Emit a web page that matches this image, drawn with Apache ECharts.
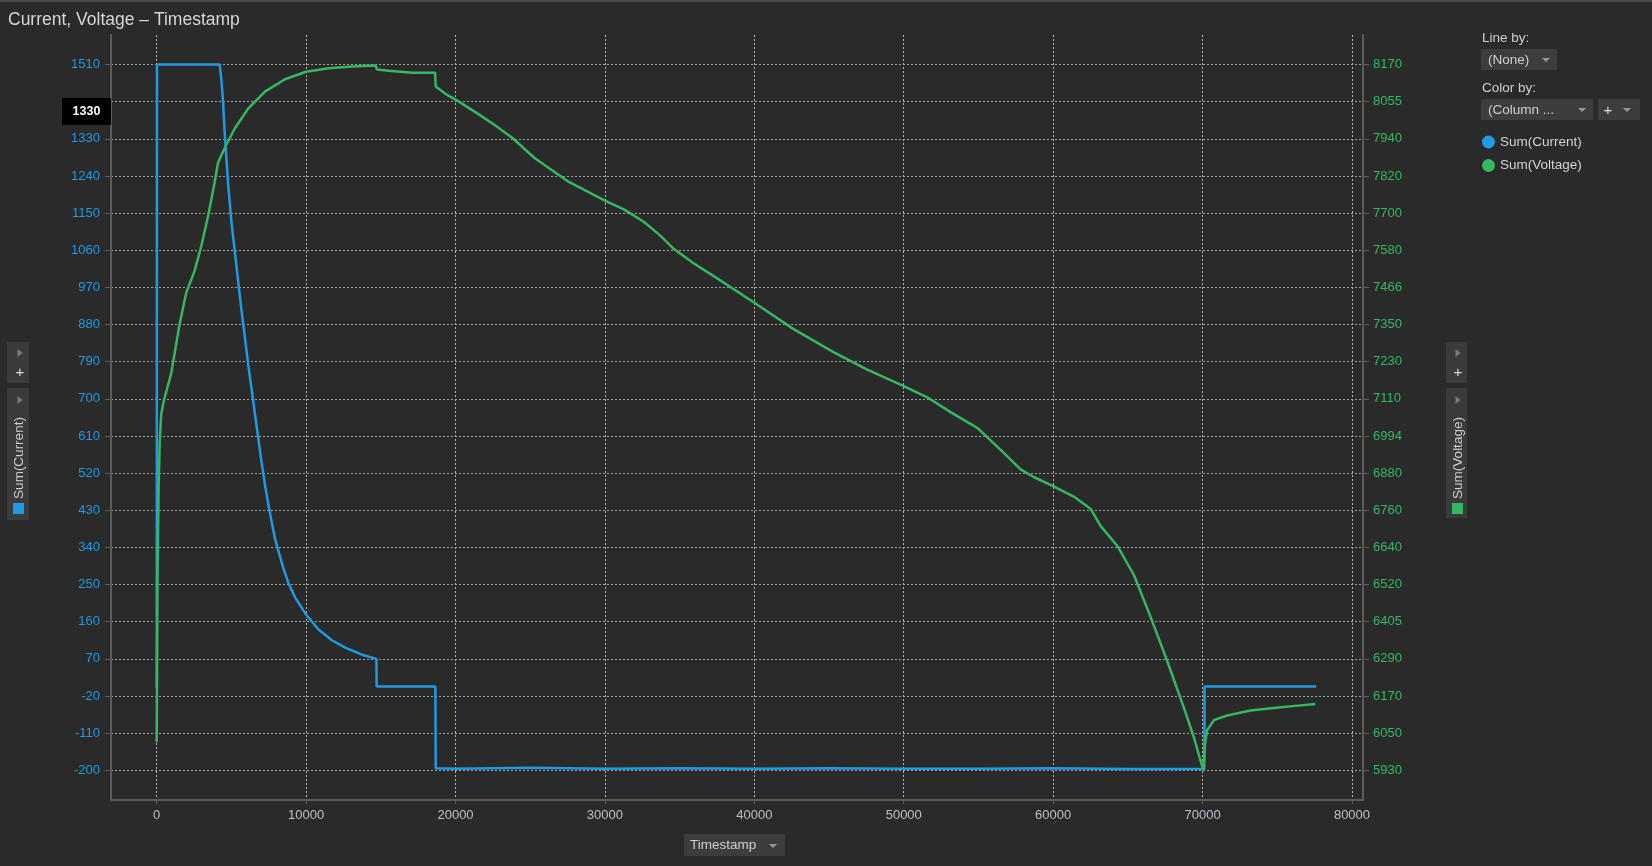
<!DOCTYPE html>
<html><head><meta charset="utf-8">
<script src="https://cdn.jsdelivr.net/npm/echarts@6/dist/echarts.min.js"></script>
<style>html,body{margin:0;padding:0;background:#2a2a2a;}#c{width:1652px;height:866px;}</style>
</head><body><div id="c"></div>
<script>
// ---- data ----
const currentTime = [0, 20, 4215, 4327, 4439, 4551, 4663, 4775, 4999, 5224, 5448, 5672, 5897, 6121, 6345, 6569, 6793, 7018, 7242, 7466, 7690, 7914, 8138, 8475, 8811, 9259, 10000, 10829, 11726, 12623, 13744, 14708, 14720, 18650, 18676, 20000, 25000, 30000, 35000, 40000, 45000, 50000, 55000, 60000, 65000, 70120, 70134, 77600];
const currentValues = [0, 1510, 1510, 1474, 1421, 1343, 1284, 1224, 1129, 1058, 986, 915, 850, 784, 725, 665, 606, 546, 493, 445, 403, 362, 332, 290, 254, 219, 177, 141, 115, 97, 80, 70, 3, 3, -195, -196, -194, -196, -195, -196, -195, -196, -196, -195, -197, -196, 3, 3];

const voltageTime = [0, 60, 130, 200, 300, 470, 964, 1525, 1973, 2534, 2982, 3430, 3879, 4103, 4551, 5224, 6121, 7242, 8587, 10000, 11502, 13071, 14640, 14750, 15537, 17106, 18631, 18676, 19349, 20089, 21590, 22711, 23832, 25267, 27489, 30000, 31267, 32600, 33711, 34600, 35933, 37489, 40000, 42600, 45267, 47489, 50000, 51603, 53162, 54944, 56503, 57839, 58730, 60000, 61403, 62517, 63185, 64298, 65412, 66526, 67639, 68753, 69421, 70045, 70178, 70312, 70757, 71648, 73207, 74766, 76548, 77550];
const voltageValues = [6019, 6572, 6829, 6970, 7060, 7102, 7188, 7344, 7445, 7515, 7593, 7687, 7796, 7858, 7905, 7967, 8030, 8084, 8123, 8147, 8158, 8164, 8167, 8154, 8150, 8144, 8144, 8100, 8076, 8056, 8011, 7975, 7936, 7874, 7800, 7738, 7710, 7671, 7627, 7585, 7539, 7492, 7414, 7331, 7258, 7203, 7149, 7113, 7066, 7016, 6946, 6884, 6860, 6832, 6798, 6759, 6705, 6642, 6549, 6416, 6276, 6128, 6034, 5931, 6019, 6058, 6089, 6104, 6120, 6128, 6136, 6140];

const xTicks = [0, 10000, 20000, 30000, 40000, 50000, 60000, 70000, 80000];
const leftTicks = [-200, -110, -20, 70, 160, 250, 340, 430, 520, 610, 700, 790, 880, 970, 1060, 1150, 1240, 1330, 1420, 1510];
const leftTickLabels = ['-200', '-110', '-20', '70', '160', '250', '340', '430', '520', '610', '700', '790', '880', '970', '1060', '1150', '1240', '1330', '', '1510'];
const rightTickLabels = ['5930', '6050', '6170', '6290', '6405', '6520', '6640', '6760', '6880', '6994', '7110', '7230', '7350', '7466', '7580', '7700', '7820', '7940', '8055', '8170'];
const hoverLabel = '1330';

// ---- styling ----
const FONT = '"Liberation Sans", Arial, sans-serif';
const BLUE = '#1f9ae4';
const GREEN = '#35b764';
const rStep = (8170 - 5930) / (rightTickLabels.length - 1);
const rightTicks = rightTickLabels.map((_, i) => 5930 + i * rStep);

const chart = echarts.init(document.getElementById('c'), null, {renderer: 'canvas'});

function tri(cx, cy, w, h, down, color) {
  const pts = down ? [[cx - w / 2, cy - h / 2], [cx + w / 2, cy - h / 2], [cx, cy + h / 2]]
                   : [[cx - w / 2, cy - h / 2], [cx + w / 2, cy], [cx - w / 2, cy + h / 2]];
  return {type: 'polygon', shape: {points: pts}, style: {fill: color}, silent: true};
}
function txt(x, y, s, opt) {
  return {type: 'text', x: x, y: y, style: Object.assign({text: s, fill: '#cfcfcf', font: '13.5px ' + FONT, align: 'left', verticalAlign: 'middle'}, opt || {})};
}

const graphics = [
  {type: 'rect', shape: {x: 0, y: 0, width: 1652, height: 2}, style: {fill: '#4a4a4a'}},
  txt(8, 20, 'Current, Voltage \u2013 Timestamp', {font: '17.5px ' + FONT, fill: '#d6d6d6'}),
  // hover marker on left axis
  {type: 'rect', shape: {x: 62, y: 98, width: 49, height: 27}, style: {fill: '#000000'}, z: 100},
  {type: 'text', x: 86.5, y: 111.5, z: 101, style: {text: hoverLabel, fill: '#ffffff', font: 'bold 12.5px ' + FONT, align: 'center', verticalAlign: 'middle'}},
  // left side controls
  {type: 'rect', shape: {x: 7, y: 342, width: 22, height: 41}, style: {fill: '#3b3b3b'}},
  tri(20, 353, 5, 8, false, '#7a7a7a'),
  txt(20, 373, '+', {align: 'center', fill: '#dddddd', font: '15px ' + FONT}),
  {type: 'rect', shape: {x: 7, y: 388, width: 22, height: 132}, style: {fill: '#3b3b3b'}},
  tri(20, 400, 5, 8, false, '#7a7a7a'),
  {type: 'text', x: 19, y: 458, rotation: Math.PI / 2, style: {text: 'Sum(Current)', fill: '#cfcfcf', font: '13.5px ' + FONT, align: 'center', verticalAlign: 'middle'}},
  {type: 'rect', shape: {x: 13, y: 503, width: 11, height: 11}, style: {fill: BLUE}},
  // right side controls
  {type: 'rect', shape: {x: 1446, y: 342, width: 21, height: 41}, style: {fill: '#3b3b3b'}},
  tri(1458, 353, 5, 8, false, '#7a7a7a'),
  txt(1458, 373, '+', {align: 'center', fill: '#dddddd', font: '15px ' + FONT}),
  {type: 'rect', shape: {x: 1446, y: 388, width: 21, height: 130}, style: {fill: '#3b3b3b'}},
  tri(1458, 400, 5, 8, false, '#7a7a7a'),
  {type: 'text', x: 1458, y: 458, rotation: Math.PI / 2, style: {text: 'Sum(Voltage)', fill: '#cfcfcf', font: '13.5px ' + FONT, align: 'center', verticalAlign: 'middle'}},
  {type: 'rect', shape: {x: 1452, y: 503, width: 11, height: 11}, style: {fill: GREEN}},
  // right panel
  txt(1482, 38, 'Line by:'),
  {type: 'rect', shape: {x: 1481, y: 49, width: 76, height: 21}, style: {fill: '#3d3d3d'}},
  txt(1488, 60, '(None)'),
  tri(1546, 60, 8, 4, true, '#9a9a9a'),
  txt(1482, 88, 'Color by:'),
  {type: 'rect', shape: {x: 1481, y: 99, width: 112, height: 21}, style: {fill: '#3d3d3d'}},
  txt(1488, 110, '(Column ...'),
  tri(1582, 110, 8, 4, true, '#9a9a9a'),
  {type: 'rect', shape: {x: 1598, y: 99, width: 42, height: 21}, style: {fill: '#3d3d3d'}},
  txt(1608, 111, '+', {align: 'center', font: '15px ' + FONT, fill: '#dddddd'}),
  tri(1627, 110, 8, 4, true, '#9a9a9a'),
  // x axis name button
  {type: 'rect', shape: {x: 684, y: 834, width: 101, height: 22}, style: {fill: '#3d3d3d'}},
  txt(690, 845, 'Timestamp'),
  tri(773, 846, 8, 4, true, '#9a9a9a')
];

const option = {
  backgroundColor: '#2a2a2a',
  animation: false,
  grid: {left: 111, right: 289, top: 35, bottom: 66, containLabel: false},
  legend: {
    left: 1477, top: 130, orient: 'vertical', icon: 'circle', itemWidth: 13, itemHeight: 13, itemGap: 9.5,
    textStyle: {color: '#d2d2d2', fontSize: 13.5, fontFamily: FONT},
    data: ['Sum(Current)', 'Sum(Voltage)']
  },
  xAxis: {
    type: 'value', min: -3059, max: 80738,
    axisLine: {show: true, onZero: false, lineStyle: {color: '#5c5c5c', width: 2}},
    axisTick: {show: true, length: 4, customValues: xTicks, lineStyle: {color: '#5c5c5c'}},
    axisLabel: {customValues: xTicks, color: '#b8c0c8', fontSize: 13, fontFamily: FONT, margin: 9, formatter: v => String(v)},
    splitLine: {show: true, lineStyle: {color: '#b4b4b4', type: [2, 2], width: 1}}
  },
  yAxis: [
    {
      type: 'value', min: -272, max: 1581.5, position: 'left',
      axisLine: {show: true, onZero: false, lineStyle: {color: '#5c5c5c', width: 2}},
      axisTick: {show: true, length: 6, customValues: leftTicks, lineStyle: {color: '#5c5c5c'}},
      axisLabel: {
        customValues: leftTicks, color: BLUE, fontSize: 13, fontFamily: FONT, margin: 11,
        formatter: v => leftTickLabels[leftTicks.indexOf(v)]
      },
      splitLine: {show: true, lineStyle: {color: '#a0a0a0', type: [2, 2], width: 1}}
    },
    {
      type: 'value', min: 5835.7, max: 8263.6, position: 'right',
      axisLine: {show: true, onZero: false, lineStyle: {color: '#5c5c5c', width: 2}},
      axisTick: {show: true, length: 6, customValues: rightTicks, lineStyle: {color: '#5c5c5c'}},
      axisLabel: {
        customValues: rightTicks, color: GREEN, fontSize: 13, fontFamily: FONT, margin: 10,
        formatter: v => rightTickLabels[Math.round((v - 5930) / rStep)]
      },
      splitLine: {show: false}
    }
  ],
  series: [
    {
      name: 'Sum(Current)', type: 'line', yAxisIndex: 0, showSymbol: false, symbol: 'circle',
      itemStyle: {color: BLUE}, lineStyle: {color: BLUE, width: 2.5},
      data: currentTime.map((t, i) => [t, currentValues[i]])
    },
    {
      name: 'Sum(Voltage)', type: 'line', yAxisIndex: 1, showSymbol: false, symbol: 'circle',
      itemStyle: {color: GREEN}, lineStyle: {color: GREEN, width: 2.5},
      data: voltageTime.map((t, i) => [t, voltageValues[i]])
    }
  ],
  graphic: graphics
};
chart.setOption(option);
</script>
</body></html>
